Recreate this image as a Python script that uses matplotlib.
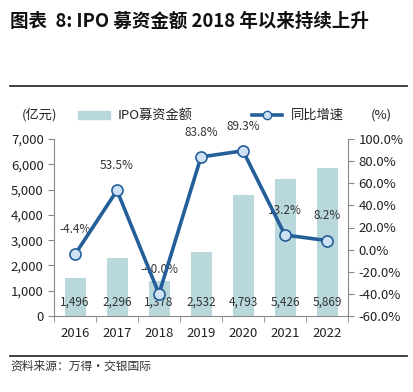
import matplotlib
matplotlib.use("Agg")
import matplotlib.pyplot as plt
from matplotlib.lines import Line2D
from matplotlib.patches import Rectangle
from matplotlib.ticker import FuncFormatter, FixedLocator

plt.rcParams['font.family'] = ['Noto Sans CJK SC', 'DejaVu Sans']

years = ['2016', '2017', '2018', '2019', '2020', '2021', '2022']
ipo_amount = [1496, 2296, 1378, 2532, 4793, 5426, 5869]
growth = [-4.4, 53.5, -40.0, 83.8, 89.3, 13.2, 8.2]

bar_color = '#b8d8dc'
line_color = '#245f99'
text_color = '#222222'

W, H = 413, 392
fig = plt.figure(figsize=(W / 100, H / 100), dpi=100)

# title and rules
fig.text(10 / W, 1 - 21 / H, '图表  8: IPO 募资金额 2018 年以来持续上升', fontsize=13.3,
         fontweight='bold', ha='left', va='center', color='#111111')
fig.add_artist(Line2D([10 / W, 407 / W], [1 - 86 / H] * 2, color='#333333', lw=1.3))
fig.add_artist(Line2D([10 / W, 407 / W], [1 - 356 / H] * 2, color='#333333', lw=1.3))
fig.text(10 / W, 1 - 366 / H, '资料来源：万得・交银国际', fontsize=8.5, style='italic',
         ha='left', va='center', color='#333333')

ax = fig.add_axes([54 / W, 1 - 316 / H, (348 - 54) / W, (316 - 139) / H])
x = list(range(len(years)))
ax.bar(x, ipo_amount, width=0.5, color=bar_color, zorder=1)
ax.set_xlim(-0.5, len(years) - 0.5)
ax.set_ylim(0, 7000)
ax.set_yticks(range(0, 7001, 1000))
ax.yaxis.set_major_formatter(FuncFormatter(lambda v, p: f'{int(v):,}'))
ax.set_xticks(x)
ax.set_xticklabels(years)
ax.xaxis.set_minor_locator(FixedLocator([i - 0.5 for i in range(len(years) + 1)]))
ax.tick_params(axis='x', which='major', length=0, pad=8, labelsize=9.5, colors=text_color)
ax.tick_params(axis='x', which='minor', length=4, color='#888888')
ax.tick_params(axis='y', length=4, color='#888888', labelsize=9.5, colors=text_color)
ax.tick_params(axis='y', colors='#888888', labelcolor=text_color)
for s in ['top', 'right']:
    ax.spines[s].set_visible(False)
for s in ['left', 'bottom']:
    ax.spines[s].set_color('#888888')
    ax.spines[s].set_linewidth(0.8)

for xi, v in zip(x, ipo_amount):
    ax.text(xi, 550, f'{v:,}', ha='center', va='center', fontsize=8.5, color='#333333', zorder=3)

ax2 = ax.twinx()
ax2.set_ylim(-60, 100)
ax2.set_yticks(range(-60, 101, 20))
ax2.yaxis.set_major_formatter(FuncFormatter(lambda v, p: f'{v:.1f}%'))
ax2.tick_params(axis='y', length=4, color='#888888', labelsize=9.5, labelcolor=text_color)
for s in ['top', 'left', 'bottom']:
    ax2.spines[s].set_visible(False)
ax2.spines['right'].set_color('#888888')
ax2.spines['right'].set_linewidth(0.8)
ax2.plot(x, growth, color=line_color, lw=2.6, marker='o', markersize=8,
         markerfacecolor='#cfe2f5', markeredgecolor=line_color, markeredgewidth=1.2, zorder=4)
for xi, g in zip(x, growth):
    ax2.annotate(f'{g:.1f}%', (xi, g), xytext=(0, 13), textcoords='offset points',
                 ha='center', va='bottom', fontsize=8.5, color='#333333')

# legend row
ly = 1 - 115 / H
fig.text(22 / W, ly, '(亿元)', fontsize=9.5, ha='left', va='center', color=text_color)
fig.add_artist(Rectangle((78 / W, ly - 4 / H), 32 / W, 8 / H, color=bar_color))
fig.text(118 / W, ly, 'IPO募资金额', fontsize=9.5, ha='left', va='center', color=text_color)
fig.add_artist(Line2D([252 / W, 282 / W], [ly, ly], color=line_color, lw=2.6))
fig.add_artist(Line2D([267 / W], [ly], marker='o', markersize=6, markerfacecolor='#cfe2f5',
                      markeredgecolor=line_color, markeredgewidth=1.0))
fig.text(291 / W, ly, '同比增速', fontsize=9.5, ha='left', va='center', color=text_color)
fig.text(371 / W, ly, '(%)', fontsize=9.5, ha='left', va='center', color=text_color)

fig.savefig('out.png', dpi=100)
